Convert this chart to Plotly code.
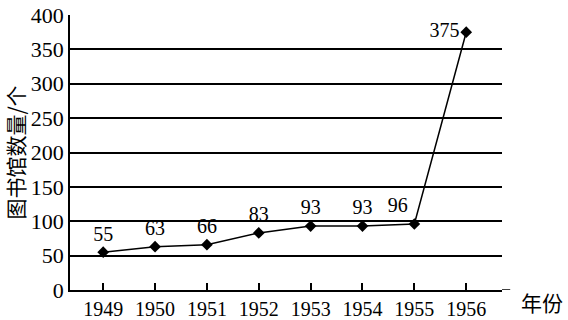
import plotly.graph_objects as go

years = [1949, 1950, 1951, 1952, 1953, 1954, 1955, 1956]
counts = [55, 63, 66, 83, 93, 93, 96, 375]
label_pos = ["top center", "top center", "top center", "top center",
             "top center", "top center", "top left", "middle left"]
y_ticks = [0, 50, 100, 150, 200, 250, 300, 350, 400]

serif = "Liberation Serif, Times New Roman, serif"
cjk = "Noto Sans CJK SC"

fig = go.Figure()
fig.add_trace(go.Scatter(
    x=years, y=counts, mode="lines+markers+text",
    text=[str(v) for v in counts], textposition=label_pos,
    textfont=dict(family=serif, size=20, color="black"),
    line=dict(color="black", width=1.5),
    marker=dict(symbol="diamond", size=9, color="black"),
    cliponaxis=False, showlegend=False,
))

fig.update_layout(
    width=568, height=320,
    margin=dict(l=70, r=66, t=15, b=30),
    paper_bgcolor="white", plot_bgcolor="white",
    xaxis=dict(
        range=[1948.36, 1956.69], tickvals=years,
        ticktext=[str(y) for y in years],
        showgrid=False, zeroline=False,
        showline=True, linecolor="black", linewidth=1.5,
        ticks="inside", ticklen=7, tickcolor="black", tickwidth=1.5,
        tickfont=dict(family=serif, size=20, color="black"),
        automargin=False, fixedrange=True,
    ),
    yaxis=dict(
        range=[0, 400], tickvals=y_ticks,
        showgrid=True, gridcolor="black", gridwidth=1.5,
        zeroline=False, showline=True, linecolor="black", linewidth=1.5,
        ticks="", ticklen=0,
        tickfont=dict(family=serif, size=22, color="black"),
        title=dict(text="图书馆数量/个", font=dict(family=cjk, size=21, color="black"), standoff=2),
        automargin=False, fixedrange=True,
    ),
    shapes=[dict(type="line", xref="paper", yref="y", x0=1, x1=1.019, y0=0, y1=0,
                 line=dict(color="black", width=1.5))],
    annotations=[dict(text="年份", xref="paper", yref="paper", x=1.04, y=-0.045,
                      xanchor="left", yanchor="middle", showarrow=False,
                      font=dict(family=cjk, size=21, color="black"))],
)

fig.write_html("out.html")
